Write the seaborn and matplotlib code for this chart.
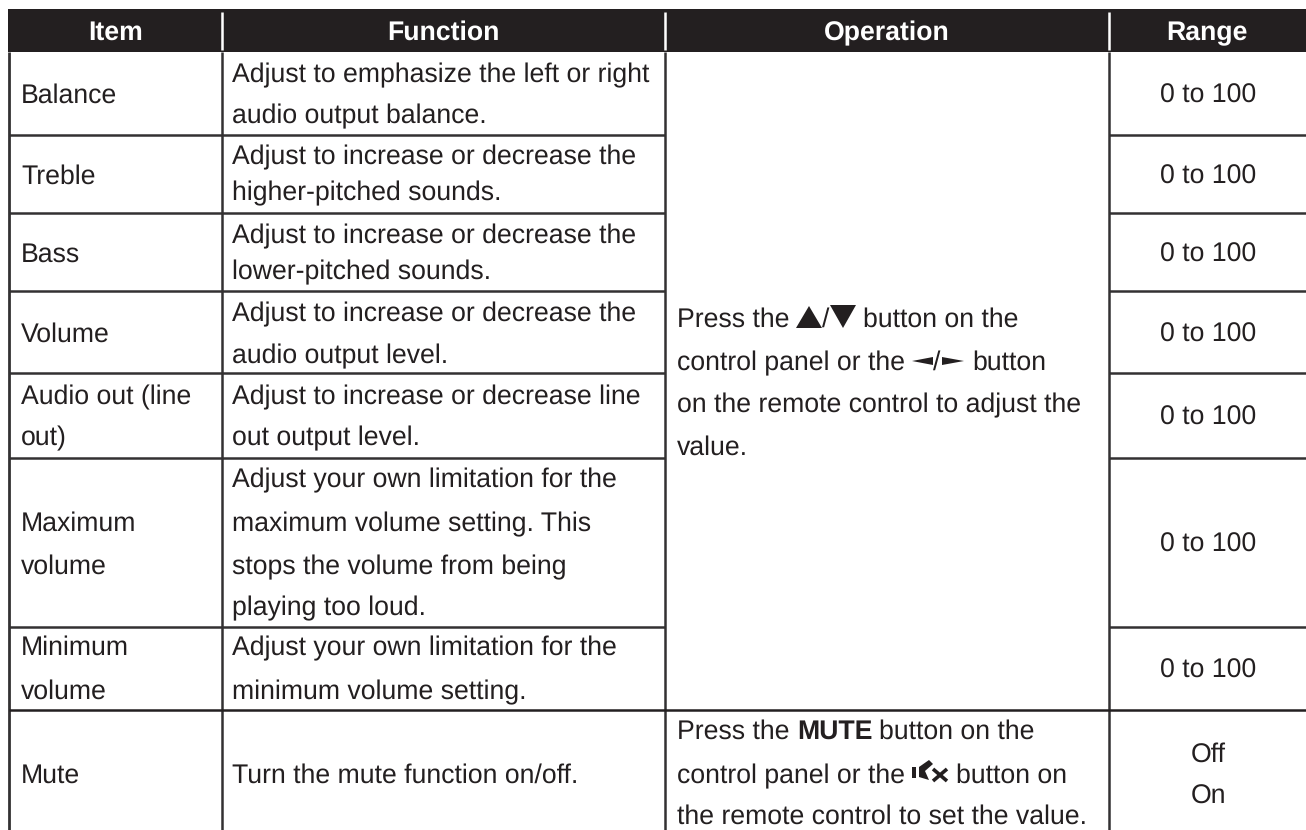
"""Audio settings table from a user manual, drawn on a pixel-sized axes."""

import numpy as np
import matplotlib
matplotlib.use("Agg")
import matplotlib.pyplot as plt
import seaborn as sns

# table content
headers = ["Item", "Function", "Operation", "Range"]
items = [
    ["Balance"],
    ["Treble"],
    ["Bass"],
    ["Volume"],
    ["Audio out (line", "out)"],
    ["Maximum", "volume"],
    ["Minimum", "volume"],
    ["Mute"],
]
functions = [
    ["Adjust to emphasize the left or right", "audio output balance."],
    ["Adjust to increase or decrease the", "higher-pitched sounds."],
    ["Adjust to increase or decrease the", "lower-pitched sounds."],
    ["Adjust to increase or decrease the", "audio output level."],
    ["Adjust to increase or decrease line", "out output level."],
    [
        "Adjust your own limitation for the",
        "maximum volume setting. This",
        "stops the volume from being",
        "playing too loud.",
    ],
    ["Adjust your own limitation for the", "minimum volume setting."],
    ["Turn the mute function on/off."],
]
ranges = [["0 to 100"]] * 7 + [["Off", "On"]]

# layout in pixels of the 1306x830 picture
WIDTH, HEIGHT = 1306, 830
col_edges = [9, 221.5, 665, 1108.5, 1306]
row_edges = [52, 135, 213, 291, 373, 458, 627, 710, 830]
func_baselines = [
    [82, 123], [164, 200], [243, 279], [321, 363],
    [404, 445], [487, 531, 574, 615], [655, 699], [783],
]
item_baselines = [[103], [184], [262], [342], [404, 445], [531, 574], [655, 699], [783]]
range_baselines = [[103], [184], [262], [342], [425], [552], [678], [762, 804]]

INK = "#231f20"
LINE = "#333132"
FONT = "Liberation Sans"
SIZE = 19.2

sns.set_theme(style="white", rc={"font.family": [FONT, "DejaVu Sans"], "text.hinting": "none"})

fig = plt.figure(figsize=(WIDTH / 100, HEIGHT / 100), dpi=100, facecolor="white")
ax = fig.add_axes([0, 0, 1, 1])
ax.set_xlim(0, WIDTH)
ax.set_ylim(HEIGHT, 0)
ax.axis("off")

# header band
band = fig.add_axes([7.5 / WIDTH, 1 - 52.5 / HEIGHT, (WIDTH - 7.5) / WIDTH, 43 / HEIGHT])
sns.heatmap(np.zeros((1, 1)), cmap=[INK], cbar=False, xticklabels=False, yticklabels=False, ax=band)
ax.set_zorder(band.get_zorder() + 1)
ax.patch.set_alpha(0)


def put(x, y, s, **kw):
    return ax.text(x, y, s, fontsize=SIZE, color=kw.pop("color", INK), va="baseline", **kw)


# grid lines
ax.vlines(col_edges[1:4], 52, HEIGHT, color=LINE, lw=1.8)
ax.vlines(col_edges[0], 52, HEIGHT, color=LINE, lw=2.0)
ax.hlines(row_edges[1:7], col_edges[0], col_edges[2], color=LINE, lw=1.8)
ax.hlines(row_edges[7], col_edges[0], WIDTH, color=INK, lw=1.8)
ax.hlines(row_edges[1:7], col_edges[3], WIDTH, color=LINE, lw=1.8)
ax.vlines(col_edges[1:4], 12, 50, color="white", lw=1.8)

# header text
for i, name in enumerate(headers):
    left, right = max(col_edges[i], 8), col_edges[i + 1]
    put((left + right) / 2, 40, name, color="white", weight="bold", ha="center")

# body columns
for lines, ys in zip(items, item_baselines):
    for s, y in zip(lines, ys):
        put(21, y, s)
for lines, ys in zip(functions, func_baselines):
    for s, y in zip(lines, ys):
        put(232, y, s)
for lines, ys in zip(ranges, range_baselines):
    for s, y in zip(lines, ys):
        put(1208, y, s, ha="center")

# operation cell shared by the first seven rows
put(677, 327, "Press the")
ax.fill([796, 809, 822], [328, 306, 328], color=INK, lw=0)
put(822, 327, "/")
ax.fill([830, 856, 843], [305, 305, 328], color=INK, lw=0)
put(863, 327, "button on the")
put(677, 370, "control panel or the")
ax.fill([912, 933, 933], [361, 357, 365], color=INK, lw=0)
put(933, 370, "/")
ax.fill([942, 964, 942], [357, 361, 365], color=INK, lw=0)
put(972, 370, "button")
put(677, 412, "on the remote control to adjust the")
put(677, 455, "value.")

# operation cell of the mute row
put(677, 739, "Press the")
put(797, 739, "MUTE", weight="bold")
put(879, 739, "button on the")
put(677, 783, "control panel or the")
ax.fill([912, 916, 916, 912], [767, 767, 778, 778], color=INK, lw=0)
ax.fill([919, 929, 933, 925, 929, 919], [767, 760, 764, 771, 780, 777], color=INK, lw=0)
ax.plot([933, 947], [769, 781], color=INK, lw=2.6, solid_capstyle="butt")
ax.plot([947, 933], [769, 781], color=INK, lw=2.6, solid_capstyle="butt")
put(956, 783, "button on")
put(677, 824, "the remote control to set the value.")

fig.savefig("out.png", dpi=100)
plt.close(fig)
